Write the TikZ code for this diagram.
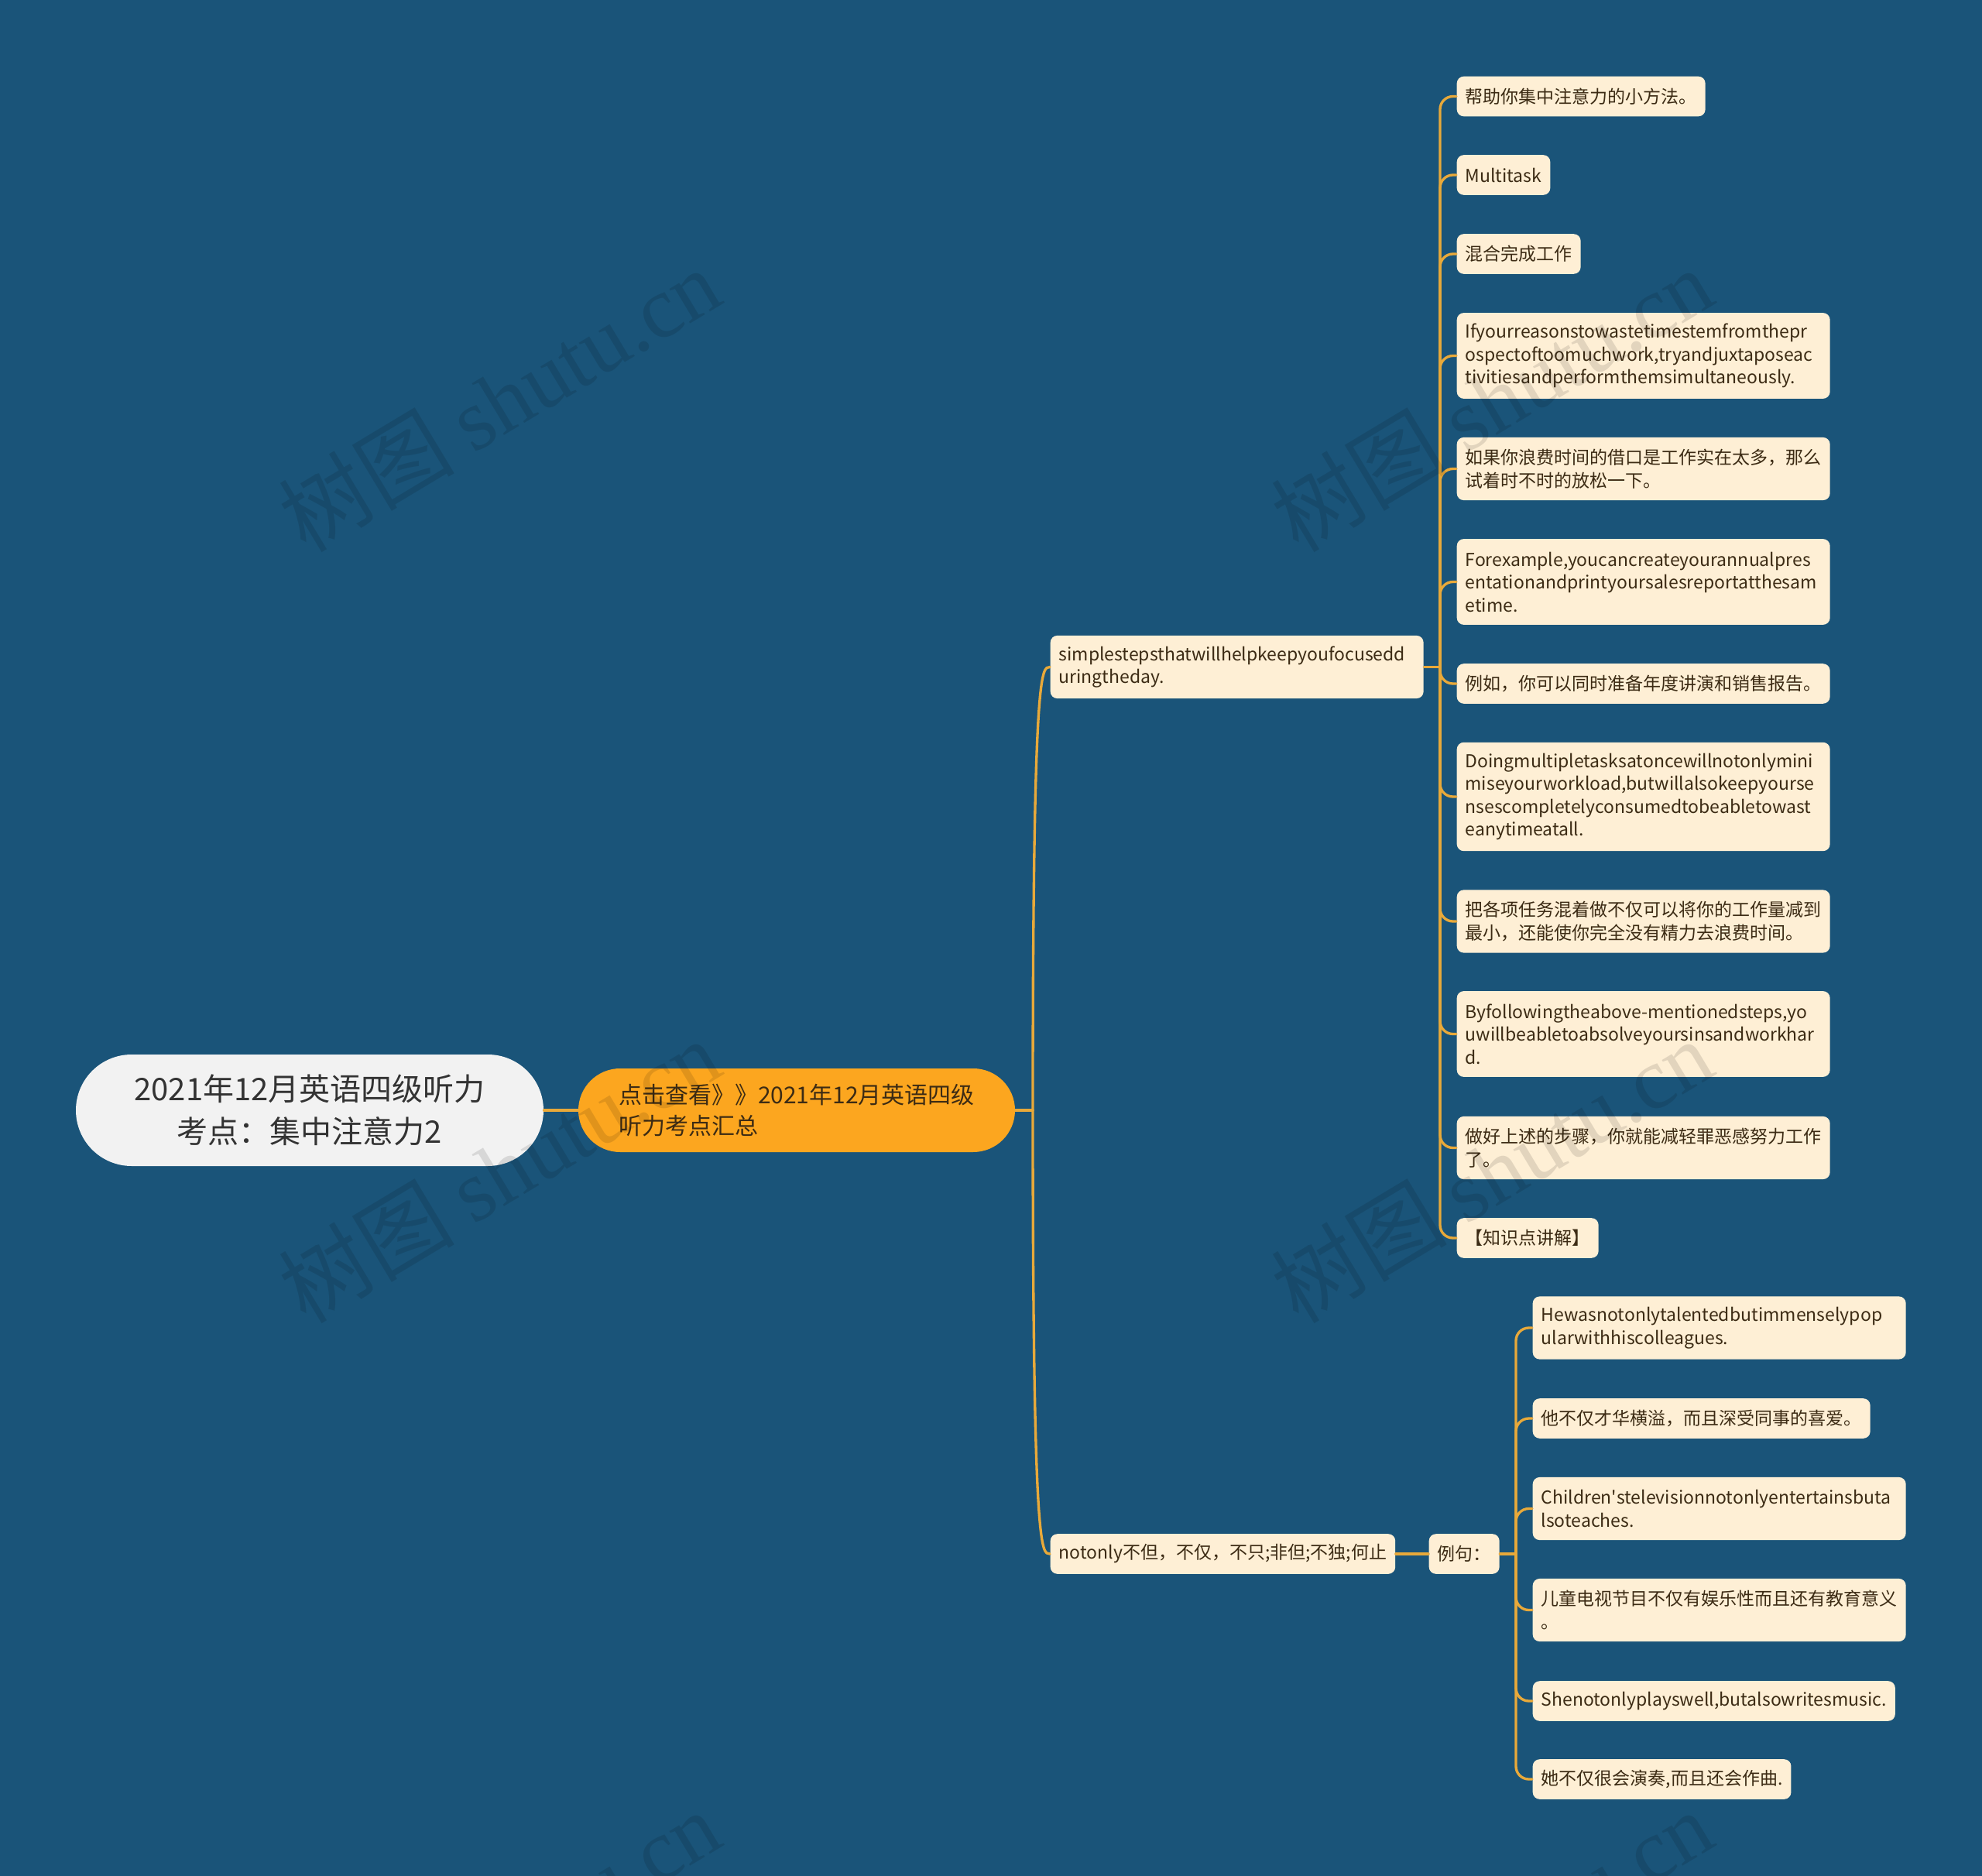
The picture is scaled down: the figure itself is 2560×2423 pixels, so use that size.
\documentclass[tikz,border=0pt]{standalone}
\usepackage{fontspec}
\setmainfont{Noto Sans CJK SC}
\newfontfamily\wmserif{Liberation Serif}
\usetikzlibrary{shapes.misc}
\hyphenpenalty=10000
\exhyphenpenalty=10000
\definecolor{bg}{HTML}{1A5479}
\definecolor{leaf}{HTML}{FEEFD5}
\definecolor{ink}{HTML}{3C2B14}
\definecolor{gold}{HTML}{E8A93A}
\definecolor{hubfill}{HTML}{FCA61F}
\definecolor{rootfill}{HTML}{F2F2F2}
\definecolor{rootink}{HTML}{333333}
\tikzset{
  leafbox/.style={fill=leaf,text=ink,rounded corners=2.7pt,anchor=west,
    inner xsep=3.3pt,inner ysep=0pt,align=left,
    font=\fontsize{6.9pt}{8.85pt}\selectfont,
    minimum height={(22+29.6*#1)*0.3pt}},
  leafbox/.default=1,
  wide/.style={text width=138pt},
  link/.style={draw=gold,line width=1pt},
  elbow/.style={link,rounded corners=5pt},
  wmark/.style={text=black,opacity=0.11,rotate=31,
    font=\fontsize{34pt}{34pt}\selectfont}
}
\begin{document}
\begin{tikzpicture}[x=0.3pt,y=-0.3pt,line cap=round,line join=round]
\useasboundingbox (0,0) rectangle (2560,2423);
\fill[bg] (0,0) rectangle (2560,2423);

% root and hub
\node[rounded rectangle,fill=rootfill,text=rootink,minimum width=181.2pt,minimum height=43.2pt,
  inner xsep=0pt,align=center,font=\fontsize{12pt}{16.5pt}\selectfont] (R) at (400,1434)
  {2021年12月英语四级听力\\考点：集中注意力2};
\node[rounded rectangle,fill=hubfill,text=ink,minimum width=169.2pt,minimum height=32.4pt,
  inner xsep=0pt,text width=138pt,align=left,font=\fontsize{9pt}{12pt}\selectfont] (H) at (1029,1434)
  {点击查看》》2021年12月英语四级\\听力考点汇总};
\draw[link,line width=1.1pt] (R.east) -- (H.west);

% first level
\node[leafbox=2,wide] (S) at (1356,861.5) {simplestepsthatwillhelpkeepyoufocusedd\\uringtheday.};
\node[leafbox] (N) at (1356,2007) {notonly不但，不仅，不只;非但;不独;何止};
\node[leafbox] (L) at (1845,2007) {例句：};
\coordinate (J0) at (1334,1434);
\draw[link] (H.east) -- (J0);
\draw[link] (J0) .. controls (J0 |- S.west) and ([xshift=-3.3pt]S.west) .. (S.west);
\draw[link] (J0) .. controls (J0 |- N.west) and ([xshift=-3.3pt]N.west) .. (N.west);
\draw[link] (N.east) -- (L.west);

% steps
\node[leafbox] (S1) at (1881,124.5) {帮助你集中注意力的小方法。};
\node[leafbox] (S2) at (1881,226) {Multitask};
\node[leafbox] (S3) at (1881,328) {混合完成工作};
\node[leafbox=3,wide] (S4) at (1881,459.5) {Ifyourreasonstowastetimestemfromthepr\\ospectoftoomuchwork,tryandjuxtaposeac\\tivitiesandperformthemsimultaneously.};
\node[leafbox=2,wide] (S5) at (1881,605.5) {如果你浪费时间的借口是工作实在太多，那么\\试着时不时的放松一下。};
\node[leafbox=3,wide] (S6) at (1881,751.5) {Forexample,youcancreateyourannualpres\\entationandprintyoursalesreportatthesam\\etime.};
\node[leafbox] (S7) at (1881,883) {例如，你可以同时准备年度讲演和销售报告。};
\node[leafbox=4,wide] (S8) at (1881,1029) {Doingmultipletasksatoncewillnotonlymini\\miseyourworkload,butwillalsokeepyourse\\nsescompletelyconsumedtobeabletowast\\eanytimeatall.};
\node[leafbox=2,wide] (S9) at (1881,1190) {把各项任务混着做不仅可以将你的工作量减到\\最小，还能使你完全没有精力去浪费时间。};
\node[leafbox=3,wide] (S10) at (1881,1335.5) {Byfollowingtheabove-mentionedsteps,yo\\uwillbeabletoabsolveyoursinsandworkhar\\d.};
\node[leafbox=2,wide] (S11) at (1881,1482.5) {做好上述的步骤，你就能减轻罪恶感努力工作\\了。};
\node[leafbox] (S12) at (1881,1599) {【知识点讲解】};
\coordinate (J1) at (1860,861.5);
\draw[link] (S.east) -- (J1);
\foreach \c in {S1,S2,S3,S4,S5,S6,S7,S8,S9,S10,S11,S12}
  \draw[elbow] (J1) |- (\c.west);

% examples
\node[leafbox=2,wide] (L1) at (1979,1715) {Hewasnotonlytalentedbutimmenselypop\\ularwithhiscolleagues.};
\node[leafbox] (L2) at (1979,1832) {他不仅才华横溢，而且深受同事的喜爱。};
\node[leafbox=2,wide] (L3) at (1979,1948.5) {Children\textquotesingle stelevisionnotonlyentertainsbuta\\lsoteaches.};
\node[leafbox=2,wide] (L4) at (1979,2079.5) {儿童电视节目不仅有娱乐性而且还有教育意义\\。};
\node[leafbox] (L5) at (1979,2197) {Shenotonlyplayswell,butalsowritesmusic.};
\node[leafbox] (L6) at (1979,2298) {她不仅很会演奏,而且还会作曲.};
\coordinate (J2) at (1958,2007);
\draw[link] (L.east) -- (J2);
\foreach \c in {L1,L2,L3,L4,L5,L6}
  \draw[elbow] (J2) |- (\c.west);

% watermark
\foreach \wx in {645,1927}
  \foreach \wy in {516,1512,2508}
    \node[wmark] at (\wx,\wy) {树图 {\wmserif shutu.cn}};
\end{tikzpicture}
\end{document}
